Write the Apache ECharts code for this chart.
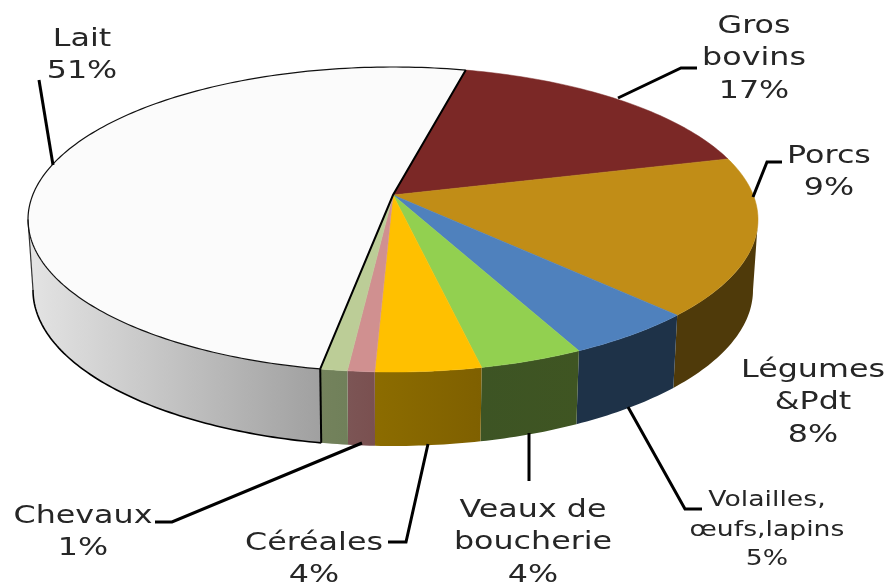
<!DOCTYPE html>
<html><head><meta charset="utf-8">
<style>html,body{margin:0;padding:0;background:#fff}#c{width:888px;height:584px}</style>
<script src="https://cdn.jsdelivr.net/npm/echarts@6/dist/echarts.min.js"></script>
</head><body><div id="c"></div>
<script>
// Data
var categories = ['Lait','Gros bovins','Porcs','Légumes &Pdt','Volailles, œufs,lapins','Veaux de boucherie','Céréales','Chevaux'];
var labelLines = [['Lait'],['Gros','bovins'],['Porcs'],['Légumes','&Pdt'],['Volailles,','œufs,lapins'],['Veaux de','boucherie'],['Céréales'],['Chevaux']];
var printedPercent = [51,17,9,8,5,4,4,1];
var drawnShare = [50,15.3,17.3,5.7,4.6,4.7,1.2,1.2];

// Styles
var topColors = ['#fbfbfb','#7b2826','#c18d17','#4f81bd','#92d050','#ffc000','#d09090','#bccd97'];
var sideFrom  = ['#e4e4e4','#4f1a18','#4f3a0a','#1e3248','#3d5424','#8c6c00','#7c5555','#74825c'];
var sideTo    = ['#a0a0a0','#4f1a18','#4f3a0a','#1e3248','#3f5522','#7f6000','#7a5050','#70805a'];

// Layout
var startDeg = 191.5;
var apex = [393,195];
var topE = {cx:393,cy:219.5,rx:365,ry:152.5};
var botE = {cx:393,cy:290,rx:360,ry:156};
var labelLayout = [
  {x:82,y:39},{x:754,y:26},{x:829,y:156},{x:813,y:370},
  {x:767,y:501,size:21,lh:29.5},{x:533,y:510},{x:314,y:543},{x:83,y:516}
];
var leaders = [
  [[39,80],[53,165]],
  [[618,98],[681,68],[697,68]],
  [[753,197],[767,162],[782,162]],
  null,
  [[628,407],[685,509],[702,509]],
  [[529,433],[529,481]],
  [[428,444],[406,542],[388,542]],
  [[362,443],[172,522],[155,522]]
];

function pt(e,deg){var r=deg*Math.PI/180;return [e.cx+e.rx*Math.sin(r),e.cy-e.ry*Math.cos(r)];}
function arc(e,a,b){var p=[],n=Math.max(2,Math.ceil(Math.abs(b-a)));for(var i=0;i<=n;i++)p.push(pt(e,a+(b-a)*i/n));return p;}

var total = drawnShare.reduce(function(s,v){return s+v;},0);
var acc = startDeg;
var sliceData = drawnShare.map(function(v,i){
  var a=acc; acc+=v/total*360;
  return {name:categories[i],value:[a,acc,printedPercent[i]]};
});

function renderItem(params,api){
  var i=params.dataIndex, a=api.value(0), b=api.value(1), pct=api.value(2), kids=[];
  var isLait = i===0;
  // slices past the top of the ellipse are measured from zero again
  var a2=a, b2=b;
  if(a2>=360){a2-=360;b2-=360;}
  // visible side: between 90 and 270 degrees
  var s=Math.max(a2,90), t=Math.min(b2,270);
  if(t>s){
    var side=arc(topE,s,t).concat(arc(botE,s,t).reverse());
    kids.push({type:'polygon',z2:isLait?5:1,shape:{points:side},style:{
      fill:new echarts.graphic.LinearGradient(0,0,1,0,[{offset:0,color:sideFrom[i]},{offset:1,color:sideTo[i]}]),
      stroke:null}});
    if(isLait){
      kids.push({type:'polyline',z2:6,shape:{points:arc(botE,s,t)},style:{fill:null,stroke:'#000',lineWidth:1.6}});
      kids.push({type:'polyline',z2:6,shape:{points:[pt(topE,s),pt(botE,s)]},style:{fill:null,stroke:'#000',lineWidth:2}});
      kids.push({type:'polyline',z2:6,shape:{points:[pt(topE,t),pt(botE,t)]},style:{fill:null,stroke:'#333',lineWidth:1.2}});
    }
  }
  // top face
  var top=[apex].concat(arc(topE,a,b));
  kids.push({type:'polygon',z2:isLait?5:2,shape:{points:top},style:{fill:topColors[i],stroke:isLait?null:topColors[i],lineWidth:0.5}});
  if(isLait){
    kids.push({type:'polyline',z2:6,shape:{points:arc(topE,a,b)},style:{fill:null,stroke:'#111',lineWidth:1.2}});
    kids.push({type:'polyline',z2:7,shape:{points:[pt(topE,a),apex,pt(topE,b)]},style:{fill:null,stroke:'#000',lineWidth:2}});
  }
  // leader
  if(leaders[i]) kids.push({type:'polyline',z2:8,shape:{points:leaders[i]},style:{fill:null,stroke:'#000',lineWidth:3}});
  // label
  var L=labelLayout[i], size=L.size||25, lh=L.lh||32.5, lines=labelLines[i].concat([pct+'%']);
  lines.forEach(function(tx,k){
    kids.push({type:'text',z2:9,x:L.x,y:L.y+k*lh,scaleX:1.27,style:{
      text:tx,x:0,y:0,align:'center',verticalAlign:'middle',fill:'#262626',
      font:size+'px "DejaVu Sans"'}});
  });
  return {type:'group',children:kids};
}

var chart=echarts.init(document.getElementById('c'),null,{renderer:'canvas'});
chart.setOption({
  animation:false,
  backgroundColor:'#ffffff',
  series:[{type:'custom',coordinateSystem:'none',renderItem:renderItem,data:sliceData,
    encode:{},silent:true,clip:false}]
});
</script></body></html>
